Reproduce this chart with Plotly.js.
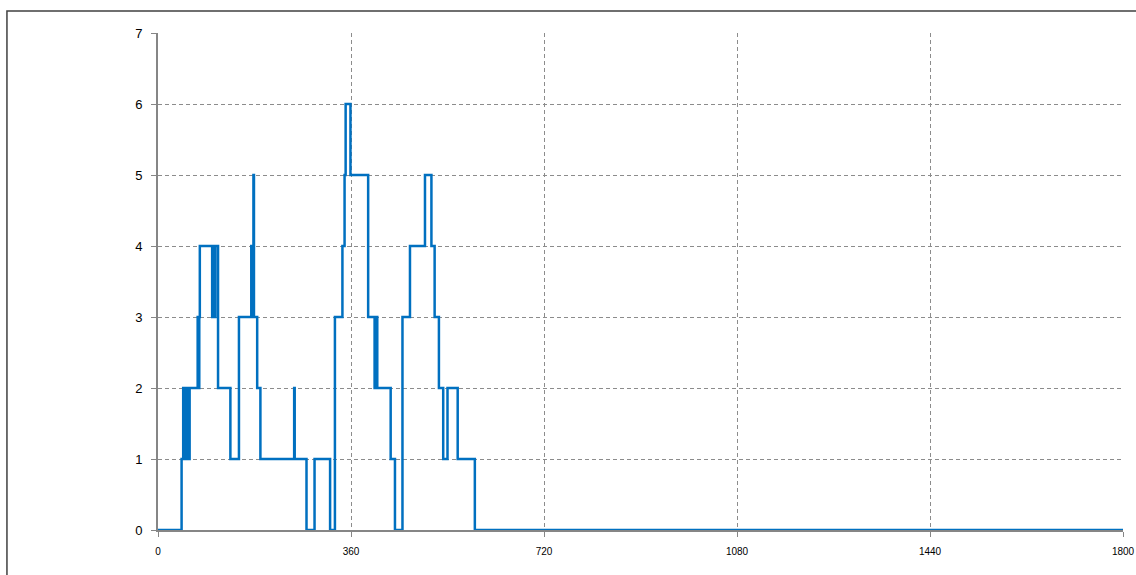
<!DOCTYPE html>
<html>
<head>
<meta charset="utf-8">
<script src="https://cdn.plot.ly/plotly-3.0.1.min.js"></script>
<style>
html,body{margin:0;padding:0;background:#fff;}
#chart{width:1136px;height:575px;}
</style>
</head>
<body>
<div id="chart"></div>
<script>
// Step transition times (x) and the value held from each time onward (y)
var stepTimes = [0, 44, 47, 51, 53, 57, 59, 74, 76, 77, 78, 101, 103, 105, 107, 112, 135, 151, 174, 175, 178, 179, 185, 191, 254, 255, 277, 292, 321, 330, 344, 348, 350, 359, 392, 404, 406, 409, 434, 442, 456, 470, 498, 510, 516, 524, 532, 540, 559, 591, 1800];
var stepValues = [0, 1, 2, 1, 2, 1, 2, 3, 2, 3, 4, 3, 4, 3, 4, 2, 1, 3, 4, 3, 5, 3, 2, 1, 2, 1, 0, 1, 0, 3, 4, 5, 6, 5, 3, 2, 3, 2, 1, 0, 3, 4, 5, 4, 3, 2, 1, 2, 1, 0, 0];
var xTicks = [0, 360, 720, 1080, 1440, 1800];
var yTicks = [0, 1, 2, 3, 4, 5, 6, 7];

var trace = {
  x: stepTimes,
  y: stepValues,
  type: 'scatter',
  mode: 'lines',
  line: {shape: 'hv', color: '#0070C0', width: 2.5},
  hoverinfo: 'x+y',
  showlegend: false,
  cliponaxis: false
};

var layout = {
  width: 1136,
  height: 575,
  margin: {l: 158, r: 13.3, t: 33, b: 45, pad: 0},
  paper_bgcolor: '#ffffff',
  plot_bgcolor: '#ffffff',
  font: {family: 'Liberation Sans, Arial, sans-serif', color: '#000000'},
  xaxis: {
    range: [0, 1800],
    tickvals: xTicks,
    ticktext: xTicks.map(String),
    showgrid: true,
    gridcolor: '#8c8c8c',
    griddash: '4px,3px',
    gridwidth: 1,
    zeroline: false,
    showline: true,
    linecolor: '#868686',
    linewidth: 2,
    ticks: 'outside',
    ticklen: 5,
    tickcolor: '#868686',
    tickfont: {size: 10, family: 'Liberation Sans, Arial, sans-serif'},
    ticklabelstandoff: 6,
    layer: 'below traces',
    fixedrange: true
  },
  yaxis: {
    range: [0, 7],
    tickvals: yTicks,
    ticktext: yTicks.map(String),
    showgrid: true,
    gridcolor: '#8c8c8c',
    griddash: '4px,3px',
    gridwidth: 1,
    zeroline: false,
    showline: true,
    linecolor: '#868686',
    linewidth: 2,
    ticks: 'outside',
    ticklen: 5,
    tickcolor: '#868686',
    tickfont: {size: 13, family: 'Liberation Sans, Arial, sans-serif'},
    ticklabelstandoff: 6,
    layer: 'below traces',
    fixedrange: true
  },
  shapes: [
    {type: 'rect', xref: 'paper', yref: 'paper',
     x0: (7 - 158) / 964.7, x1: (1145 - 158) / 964.7,
     y0: (530 - 590) / 497, y1: 1 + 22 / 497,
     line: {color: '#404040', width: 1.5}, fillcolor: 'rgba(0,0,0,0)', layer: 'below'}
  ]
};

Plotly.newPlot('chart', [trace], layout, {displayModeBar: false, staticPlot: true});
</script>
</body>
</html>
